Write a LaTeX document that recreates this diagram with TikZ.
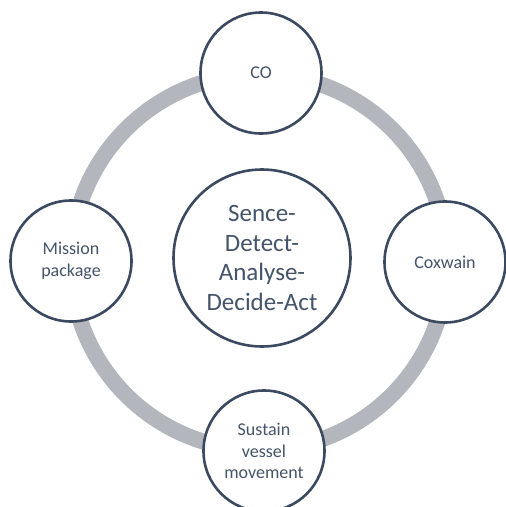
\documentclass[tikz,border=0pt]{standalone}
\usepackage{fontspec}
\setmainfont{Carlito}
\definecolor{ringgrey}{HTML}{B3B6BC}
\definecolor{rimblue}{HTML}{3B4A60}
\definecolor{textslate}{HTML}{44546A}
\tikzset{
  role/.style={circle, draw=rimblue, line width=2.6pt, fill=white,
    minimum size=121pt, inner sep=0pt, align=center, text=textslate,
    font=\fontsize{18}{21.5}\selectfont},
  hubnode/.style={circle, draw=rimblue, line width=2.6pt, fill=white,
    minimum size=177pt, inner sep=0pt, align=center, text=textslate,
    font=\fontsize{25}{29.5}\selectfont},
  loop/.style={draw=ringgrey, line width=16pt}
}
\begin{document}
\begin{tikzpicture}[x=1pt,y=-1pt]
\useasboundingbox (0,0) rectangle (506,507);
% grey cycle through the four roles
\coordinate (hub) at (259,262);
\draw[loop] (hub) circle[radius=188pt];
% roles around the cycle
\node[role] (co) at (261,73) {CO};
\node[role] (coxwain) at (445,262) {Coxwain};
\node[role] (sustain) at (264,451) {Sustain\\vessel\\movement};
\node[role] (mission) at (71,261) {Mission\\package};
% central loop
\node[hubnode] (sdada) at (262,258) {Sence-\\Detect-\\Analyse-\\Decide-Act};
\end{tikzpicture}
\end{document}
